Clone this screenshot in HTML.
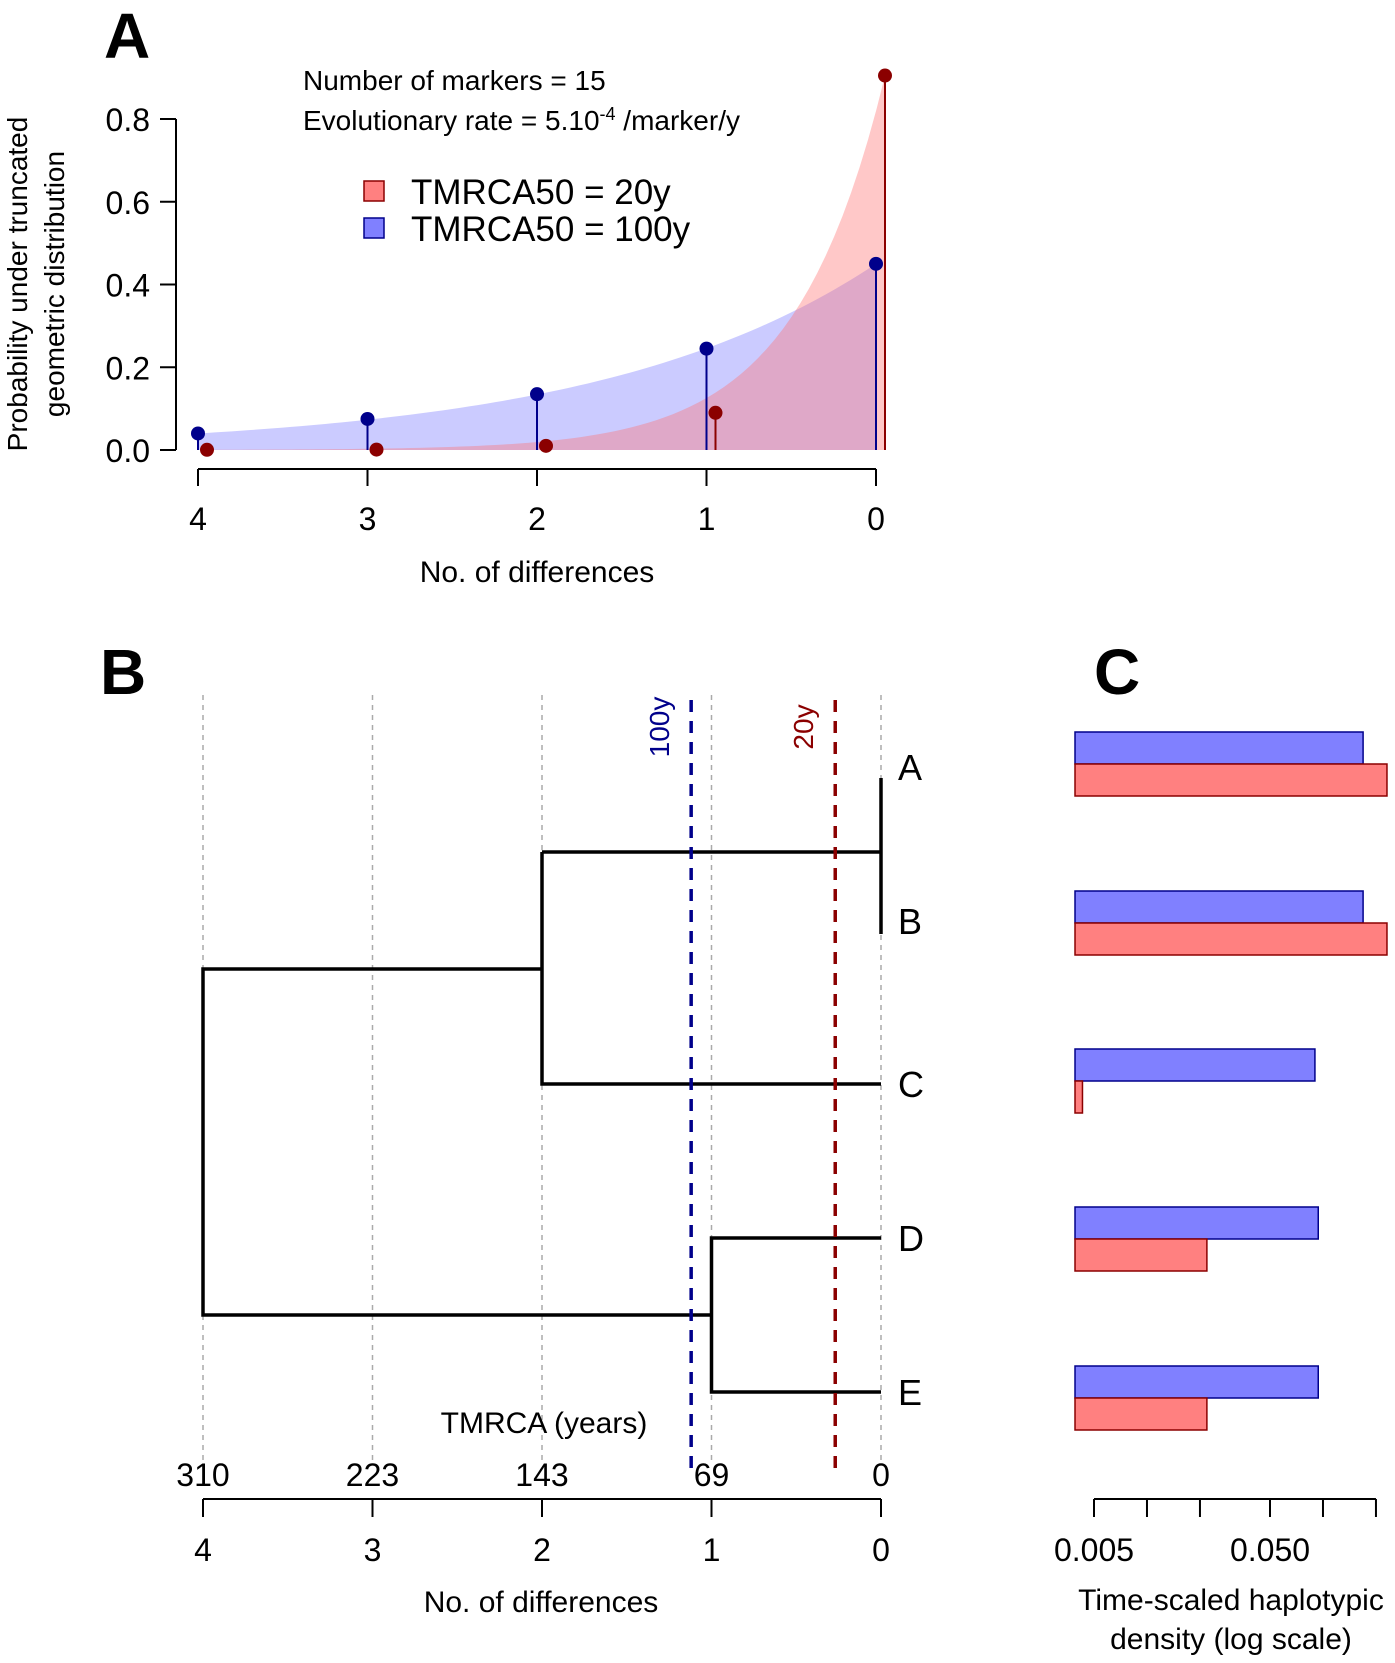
<!DOCTYPE html>
<html><head><meta charset="utf-8"><style>
html,body{margin:0;padding:0;background:#fff}
svg{display:block;font-family:"Liberation Sans",sans-serif}
</style></head><body>
<svg id="fig" width="1395" height="1663" viewBox="0 0 1395 1663" xmlns="http://www.w3.org/2000/svg">
<text x="104" y="58" font-size="64" font-weight="bold">A</text>
<text x="100" y="694" font-size="64" font-weight="bold">B</text>
<text x="1094" y="694" font-size="64" font-weight="bold">C</text>
<text x="303" y="90" font-size="28">Number of markers = 15</text>
<text x="303" y="130" font-size="28">Evolutionary rate = 5.10<tspan dy="-10" font-size="18">-4</tspan><tspan dy="10"> /marker/y</tspan></text>
<rect x="364" y="181" width="20" height="20" fill="#ff8080" stroke="#8b0000" stroke-width="1.5"/>
<text x="411" y="204" font-size="35">TMRCA50 = 20y</text>
<rect x="364" y="218" width="20" height="20" fill="#8080ff" stroke="#00008b" stroke-width="1.5"/>
<text x="411" y="241" font-size="35">TMRCA50 = 100y</text>
<g font-size="28" text-anchor="middle">
<text transform="translate(27,284) rotate(-90)">Probability under truncated</text>
<text transform="translate(64,284) rotate(-90)">geometric distribution</text>
</g>
<text x="537" y="582" font-size="30" text-anchor="middle">No. of differences</text>
<g id="pa"></g>
<g id="pb"></g>
<g id="pc"></g>
</svg>
<script>
const NS="http://www.w3.org/2000/svg";
function mk(parent,tag,attrs,text){const e=document.createElementNS(NS,tag);for(const k in attrs)e.setAttribute(k,attrs[k]);if(text!==undefined)e.textContent=text;parent.appendChild(e);return e;}

// ---------- Panel A data ----------
const diffs=[4,3,2,1,0];
const prob100=[0.04,0.075,0.135,0.245,0.45];
const prob20=[0.0005,0.001,0.01,0.09,0.905];
const yTicksA=[0,0.2,0.4,0.6,0.8];
const yTickLabelsA=["0.0","0.2","0.4","0.6","0.8"];

const xA=d=>876-d*169.5;
const yA=p=>450-p*413.75;
const pa=document.getElementById('pa');

function fillCurve(vals,off,color,name){
  const a=vals[vals.length-1], b=vals[0];
  const r=Math.pow(b/a,1/4);
  let d="M"+(xA(4)+off)+","+yA(0);
  for(let i=0;i<=80;i++){const k=4-i*0.05;d+=" L"+(xA(k)+off)+","+yA(a*Math.pow(r,k));}
  d+=" L"+(xA(0)+off)+","+yA(0)+" Z";
  const p=mk(pa,'path',{d:d,fill:color});
  
  
}
fillCurve(prob100,0,"rgba(140,140,255,0.45)","area-100y");
fillCurve(prob20,9,"rgba(255,110,110,0.38)","area-20y");

function stems(vals,off,color,name){
  vals.forEach((v,i)=>{
    const x=xA(diffs[i])+off;
    const l=mk(pa,'line',{x1:x,y1:yA(0),x2:x,y2:yA(v),stroke:color,'stroke-width':2});
    
    
    const c=mk(pa,'circle',{cx:x,cy:yA(v),r:7,fill:color});
    
    
  });
}
stems(prob100,0,"#00008b","series-100y");
stems(prob20,9,"#8b0000","series-20y");

const ya=mk(pa,'path',{d:"M176,"+yA(0)+" V"+yA(0.8),stroke:"#000",'stroke-width':2,fill:"none"});


yTicksA.forEach((t,i)=>{
  const l=mk(pa,'line',{x1:160,x2:176,y1:yA(t),y2:yA(t),stroke:"#000",'stroke-width':2});
  
  
  const tx=mk(pa,'text',{x:150,y:yA(t)+12,'font-size':32,'text-anchor':'end'},yTickLabelsA[i]);
  
  
});
const xa=mk(pa,'line',{x1:xA(4),x2:xA(0),y1:469,y2:469,stroke:"#000",'stroke-width':2});


diffs.forEach(d=>{
  const l=mk(pa,'line',{x1:xA(d),x2:xA(d),y1:469,y2:486,stroke:"#000",'stroke-width':2});
  
  
  const t=mk(pa,'text',{x:xA(d),y:530,'font-size':32,'text-anchor':'middle'},String(d));
  
  
});

// ---------- Panel B data ----------
const treeDiffs=[4,3,2,1,0];
const tmrcaLabels=["310","223","143","69","0"];
const tips=["A","B","C","D","E"];
const tipY=[767,921,1084,1238,1392];
const cut100=1.12;
const cut20=0.27;

const xB=d=>881-d*169.5;
const pb=document.getElementById('pb');
treeDiffs.forEach(d=>{
  const l=mk(pb,'line',{x1:xB(d),x2:xB(d),y1:695,y2:1464,stroke:"#aaa",'stroke-width':1.5,'stroke-dasharray':'5,5'});
  
  
});
function seg(d,name){const p=mk(pb,'path',{d:d,stroke:"#000",'stroke-width':3.5,fill:"none"});}
const yAB=852, yABC=969, yDE=1315;
seg("M"+xB(0)+",778 V934","branch-a-b");
seg("M"+xB(0)+","+yAB+" H"+xB(2),"branch-ab");
seg("M"+xB(2)+","+yAB+" V"+tipY[2]+" H"+xB(0),"branch-c");
seg("M"+xB(2)+","+yABC+" H"+xB(4)+" V"+yDE+" H"+xB(1),"branch-root");
seg("M"+xB(0)+","+tipY[3]+" H"+xB(1)+" V"+tipY[4]+" H"+xB(0),"branch-de");
const labelY=[767,921,1084,1238,1392];
tips.forEach((n,i)=>{
  const t=mk(pb,'text',{x:898,y:labelY[i]+13,'font-size':36},n);
  
  
});
[[cut100,"#00008b","100y","cutoff-100y"],[cut20,"#8b0000","20y","cutoff-20y"]].forEach(c=>{
  const x=xB(c[0]);
  const l=mk(pb,'line',{x1:x,x2:x,y1:700,y2:1470,stroke:c[1],'stroke-width':3.5,'stroke-dasharray':'12,9'});
  
  
  const t=mk(pb,'text',{transform:"translate("+(x-22)+",727) rotate(-90)",'font-size':28,fill:c[1],'text-anchor':'middle'},c[2]);
  
  
});
const tt=mk(pb,'text',{x:544,y:1433,'font-size':30,'text-anchor':'middle'},"TMRCA (years)");


const xb=mk(pb,'line',{x1:xB(4),x2:xB(0),y1:1499,y2:1499,stroke:"#000",'stroke-width':2});


treeDiffs.forEach((d,i)=>{
  const t1=mk(pb,'text',{x:xB(d),y:1486,'font-size':32,'text-anchor':'middle'},tmrcaLabels[i]);
  
  
  const l=mk(pb,'line',{x1:xB(d),x2:xB(d),y1:1499,y2:1517,stroke:"#000",'stroke-width':2});
  
  
  const t2=mk(pb,'text',{x:xB(d),y:1561,'font-size':32,'text-anchor':'middle'},String(d));
  
  
});
const xbt=mk(pb,'text',{x:541,y:1612,'font-size':30,'text-anchor':'middle'},"No. of differences");



// ---------- Panel C data ----------
const density100=[0.169,0.169,0.090,0.094,0.094];
const density20=[0.231,0.231,0.0043,0.0219,0.0219];
const cTicks=[0.005,0.01,0.02,0.05,0.1,0.2];
const cTickLabels=["0.005","","","0.050","",""];
const cBase=0.0039;
const barCenters=[764,923,1081,1239,1398];

const xC=v=>1094+Math.log10(v/0.005)*176;
const pc=document.getElementById('pc');
tips.forEach((n,i)=>{
  const b=mk(pc,'rect',{x:xC(cBase),y:barCenters[i]-32,width:xC(density100[i])-xC(cBase),height:32,fill:"#8080ff",stroke:"#00008b",'stroke-width':1.5});
  
  
  const r=mk(pc,'rect',{x:xC(cBase),y:barCenters[i],width:xC(density20[i])-xC(cBase),height:32,fill:"#ff8080",stroke:"#8b0000",'stroke-width':1.5});
  
  
});
const xc=mk(pc,'line',{x1:xC(cTicks[0]),x2:xC(cTicks[cTicks.length-1]),y1:1499,y2:1499,stroke:"#000",'stroke-width':2});


cTicks.forEach((v,i)=>{
  const l=mk(pc,'line',{x1:xC(v),x2:xC(v),y1:1499,y2:1517,stroke:"#000",'stroke-width':2});
  
  
  if(cTickLabels[i]){
    const t=mk(pc,'text',{x:xC(v),y:1561,'font-size':32,'text-anchor':'middle'},cTickLabels[i]);
    
    
  }
});
const c1=mk(pc,'text',{x:1231,y:1610,'font-size':30,'text-anchor':'middle'},"Time-scaled haplotypic");


const c2=mk(pc,'text',{x:1231,y:1649,'font-size':30,'text-anchor':'middle'},"density (log scale)");


</script>
</body></html>
